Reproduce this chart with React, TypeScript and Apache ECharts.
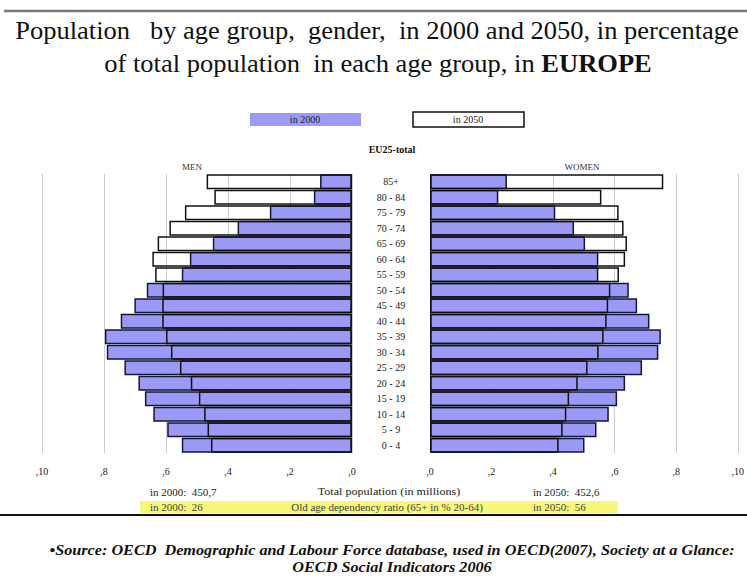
import React, { useEffect, useRef } from "react";
import * as echarts from "echarts";

// Age groups, bottom to top
const ageGroups = ["0 - 4", "5 - 9", "10 - 14", "15 - 19", "20 - 24", "25 - 29", "30 - 34", "35 - 39", "40 - 44", "45 - 49", "50 - 54", "55 - 59", "60 - 64", "65 - 69", "70 - 74", "75 - 79", "80 - 84", "85+"];
const men2000 = [0.549, 0.596, 0.641, 0.668, 0.689, 0.734, 0.791, 0.797, 0.746, 0.702, 0.662, 0.549, 0.523, 0.449, 0.369, 0.265, 0.123, 0.103];
const men2050 = [0.455, 0.466, 0.477, 0.494, 0.52, 0.555, 0.584, 0.6, 0.612, 0.612, 0.611, 0.635, 0.644, 0.627, 0.589, 0.539, 0.444, 0.469];
const women2000 = [0.502, 0.541, 0.581, 0.608, 0.634, 0.689, 0.742, 0.75, 0.713, 0.673, 0.646, 0.547, 0.547, 0.504, 0.468, 0.407, 0.222, 0.25];
const women2050 = [0.418, 0.431, 0.443, 0.452, 0.48, 0.512, 0.548, 0.564, 0.574, 0.579, 0.586, 0.614, 0.634, 0.64, 0.629, 0.613, 0.557, 0.758];
const tickLabels = [",0", ",2", ",4", ",6", ",8", ",10"];

const BLUE = "#9b9bf7";
const EDGE = "#15153a";
const SERIF = "Liberation Serif";

function txt(x: number, y: number, text: string, size: number, opts: any = {}) {
  const { align = "left", weight = "normal", italic = false, fill = "#222", scaleX = 1, rich } = opts;
  return {
    type: "text", x, y, scaleX,
    style: {
      text, fontFamily: SERIF, fontSize: size, fontWeight: weight, fontStyle: italic ? "italic" : "normal",
      fill, align, verticalAlign: "middle", rich,
    },
  };
}

export default function App() {
  const ref = useRef<HTMLDivElement>(null);
  useEffect(() => {
    if (!ref.current) return;
    const chart = echarts.init(ref.current, undefined, { renderer: "svg" });
    const fmt = (v: number) => tickLabels[Math.round(v / 0.2)] ?? "";
    const xCommon = {
      type: "value" as const,
      min: 0,
      max: 1,
      interval: 0.2,
      axisLine: { show: false },
      axisTick: { show: false },
      splitLine: { show: true, lineStyle: { color: "#cccccc", width: 1 } },
      axisLabel: { formatter: fmt, fontFamily: SERIF, fontSize: 10, color: "#222", margin: 13 },
    };
    const barBase = { type: "bar" as const, barGap: "-100%", barCategoryGap: "4%" };
    chart.setOption({
      animation: false,
      backgroundColor: "#ffffff",
      grid: [
        { left: 42, width: 310, top: 174, height: 279 },
        { left: 430, width: 311, top: 174, height: 279 },
      ],
      xAxis: [
        { ...xCommon, gridIndex: 0, inverse: true },
        { ...xCommon, gridIndex: 1 },
      ],
      yAxis: [
        { type: "category", gridIndex: 0, data: ageGroups, axisLine: { show: false }, axisTick: { show: false }, axisLabel: { show: false } },
        {
          type: "category", gridIndex: 1, data: ageGroups, axisLine: { show: false }, axisTick: { show: false },
          axisLabel: { show: true, align: "center", margin: 39, fontFamily: SERIF, fontSize: 10, color: "#222" },
        },
      ],
      series: [
        { ...barBase, name: "men 2000", xAxisIndex: 0, yAxisIndex: 0, data: men2000, itemStyle: { color: BLUE, borderColor: EDGE, borderWidth: 1.5 } },
        { ...barBase, name: "men 2050", xAxisIndex: 0, yAxisIndex: 0, data: men2050, itemStyle: { color: "rgba(0,0,0,0)", borderColor: "#111", borderWidth: 1.5 } },
        { ...barBase, name: "women 2000", xAxisIndex: 1, yAxisIndex: 1, data: women2000, itemStyle: { color: BLUE, borderColor: EDGE, borderWidth: 1.5 } },
        { ...barBase, name: "women 2050", xAxisIndex: 1, yAxisIndex: 1, data: women2050, itemStyle: { color: "rgba(0,0,0,0)", borderColor: "#111", borderWidth: 1.5 } },
      ],
      graphic: [
        { type: "line", shape: { x1: 4, y1: 11, x2: 747, y2: 11 }, style: { stroke: "#777", lineWidth: 2.5 } },
        txt(377, 31, "Population   by age group,  gender,  in 2000 and 2050, in percentage", 25, { align: "center", fill: "#111", scaleX: 1.06 }),
        txt(378, 64, "of total population  in each age group, in {b|EUROPE}", 25, {
          align: "center", fill: "#111", scaleX: 1.06,
          rich: { b: { fontWeight: "bold", fontSize: 25, fontFamily: SERIF, fill: "#111" } },
        }),
        { type: "rect", shape: { x: 250, y: 113, width: 111, height: 13 }, style: { fill: BLUE } },
        txt(305, 119.5, "in 2000", 10, { align: "center" }),
        { type: "rect", shape: { x: 413, y: 112, width: 111, height: 15 }, style: { fill: "#fff", stroke: "#111", lineWidth: 1.5 } },
        txt(468, 119.5, "in 2050", 10, { align: "center" }),
        txt(392, 149, "EU25-total", 10, { align: "center", weight: "bold", fill: "#111" }),
        txt(192, 167, "MEN", 9, { align: "center", fill: "#333" }),
        txt(582, 167, "WOMEN", 9, { align: "center", fill: "#333" }),
        txt(150, 492, "in 2000:  450,7", 11),
        txt(389, 492, "Total population (in millions)", 11, { align: "center", scaleX: 1.1 }),
        txt(533, 492, "in 2050:  452,6", 11),
        { type: "rect", shape: { x: 140, y: 501, width: 478, height: 12 }, style: { fill: "#f7f77a" } },
        txt(150, 507, "in 2000:  26", 11, { fill: "#444" }),
        txt(387, 507, "Old age dependency ratio (65+ in % 20-64)", 11, { align: "center", fill: "#444" }),
        txt(533, 507, "in 2050:  56", 11, { fill: "#444" }),
        { type: "line", shape: { x1: 0, y1: 515, x2: 747, y2: 515 }, style: { stroke: "#111", lineWidth: 2 } },
        txt(392, 550, "\u2022Source: OECD  Demographic and Labour Force database, used in OECD(2007), Society at a Glance:", 15, {
          align: "center", weight: "bold", italic: true, fill: "#111", scaleX: 1.08,
        }),
        txt(392, 567, "OECD Social Indicators 2006", 15, { align: "center", weight: "bold", italic: true, fill: "#111", scaleX: 1.08 }),
      ],
    });
    return () => chart.dispose();
  }, []);
  return <div ref={ref} style={{ position: "fixed", left: 0, top: 0, width: 747, height: 578 }} />;
}
